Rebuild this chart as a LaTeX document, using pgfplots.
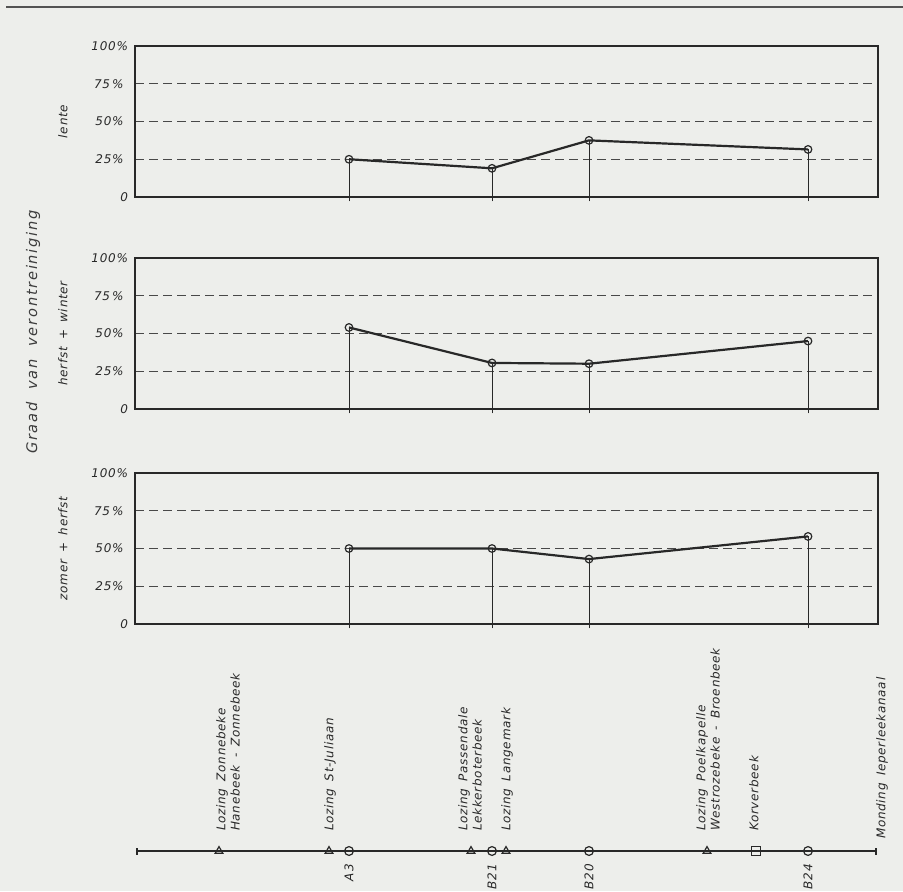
\documentclass[border=0pt]{standalone}
\usepackage{fontspec}
\setmainfont{DejaVu Sans}[LetterSpace=6,WordSpace=1.6]
\newfontfamily\wide{DejaVu Sans}[LetterSpace=12,WordSpace=2]
\usepackage{pgfplots}
\pgfplotsset{compat=1.18}
\definecolor{paper}{RGB}{237,238,235}
\definecolor{ink}{RGB}{40,40,40}
\newcommand{\sm}{\fontsize{6}{7.2}\selectfont\itshape}

\pgfplotsset{
  panel/.style={
    scale only axis, width=371.5pt, height=75.5pt,
    anchor=south west,
    xmin=135, xmax=878, ymin=0, ymax=100,
    axis line style={ink, line width=0.75pt},
    xtick={349,492,589,808}, xticklabels={},
    xtick pos=left, tick align=outside, major tick length=2.2pt,
    xtick style={ink, line width=0.5pt},
    ytick={25,50,75}, yticklabels={25\%,50\%,75\,\%},
    extra y ticks={0,100}, extra y tick labels={0,100\%},
    extra y tick style={grid=none, major tick length=0pt},
    ytick style={draw=none},
    ymajorgrids,
    grid style={ink!85, line width=0.7pt, dash pattern=on 4.5pt off 2.5pt},
    tick label style={font=\sm, text=ink},
    every axis y label/.style={at={(axis description cs:-0.097,0.5)},
      rotate=90, anchor=center, font=\sm, text=ink},
    clip=false,
  },
  stem/.style={ycomb, ink, line width=0.5pt},
  run/.style={ink, line width=1.1pt, mark=o, mark size=1.9pt,
    mark options={fill=paper, line width=0.6pt, solid}},
}

\begin{document}
\begin{tikzpicture}
\fill[paper] (0,0) rectangle (451.5pt,445.5pt);
\path[use as bounding box] (0,0) rectangle (451.5pt,445.5pt);
\draw[ink!80, line width=0.6pt] (3pt,442pt) -- (451.5pt,442pt);
\node[rotate=90, font=\wide\fontsize{7.3}{8}\selectfont\itshape, text=ink!90]
  at (16.5pt,279.5pt) {Graad van verontreiniging};

% lente
\begin{axis}[panel, at={(67.5pt,347pt)}, ylabel={lente}]
\addplot[stem] coordinates {(349,25) (492,19) (589,37.5) (808,31.5)};
\addplot[run] coordinates {(349,25) (492,19) (589,37.5) (808,31.5)};
\end{axis}

% herfst + winter
\begin{axis}[panel, at={(67.5pt,241pt)}, ylabel={herfst + winter}]
\addplot[stem] coordinates {(349,54) (492,30.5) (589,30) (808,45)};
\addplot[run] coordinates {(349,54) (492,30.5) (589,30) (808,45)};
\end{axis}

% zomer + herfst
\begin{axis}[panel, at={(67.5pt,133.5pt)}, ylabel={zomer + herfst}]
\addplot[stem] coordinates {(349,50) (492,50) (589,43) (808,58)};
\addplot[run] coordinates {(349,50) (492,50) (589,43) (808,58)};
\end{axis}

% river profile
\begin{axis}[at={(67.5pt,0pt)}, anchor=south west, scale only axis,
  width=371.5pt, height=50pt, xmin=135, xmax=878, ymin=0, ymax=100,
  hide axis, clip=false]
\addplot[ink, line width=0.8pt] coordinates {(137,40) (876,40)};
\addplot[ink, line width=0.8pt] coordinates {(137,36.5) (137,43.5)};
\addplot[ink, line width=0.8pt] coordinates {(876,36.5) (876,43.5)};
\addplot[only marks, mark=triangle, mark size=2.2pt,
  mark options={ink, fill=paper, line width=0.6pt}]
  coordinates {(219,40) (329,40) (471,40) (506,40) (707,40)};
\addplot[only marks, mark=o, mark size=2.2pt,
  mark options={ink, fill=paper, line width=0.6pt}]
  coordinates {(349,40) (492,40) (589,40) (808,40)};
\addplot[only marks, mark=square, mark size=2.1pt,
  mark options={ink, fill=paper, line width=0.6pt}]
  coordinates {(756,40)};
\begin{scope}[every node/.style={font=\sm, text=ink, rotate=90, align=left}]
\node[anchor=west] at (axis cs:228,53) {Lozing  Zonnebeke\\Hanebeek - Zonnebeek};
\node[anchor=west] at (axis cs:330,53) {Lozing  St-Juliaan};
\node[anchor=west] at (axis cs:470,53) {Lozing  Passendale\\Lekkerboterbeek};
\node[anchor=west] at (axis cs:507,53) {Lozing  Langemark};
\node[anchor=west] at (axis cs:708,53) {Lozing  Poelkapelle\\Westrozebeke - Broenbeek};
\node[anchor=west] at (axis cs:754,53) {Korverbeek};
\node[anchor=west] at (axis cs:882,45) {Monding  Ieperleekanaal};
\node[anchor=east] at (axis cs:349,34) {A\,3};
\node[anchor=east] at (axis cs:492,34) {B21};
\node[anchor=east] at (axis cs:589,34) {B20};
\node[anchor=east] at (axis cs:808,34) {B24};
\end{scope}
\end{axis}
\end{tikzpicture}
\end{document}
